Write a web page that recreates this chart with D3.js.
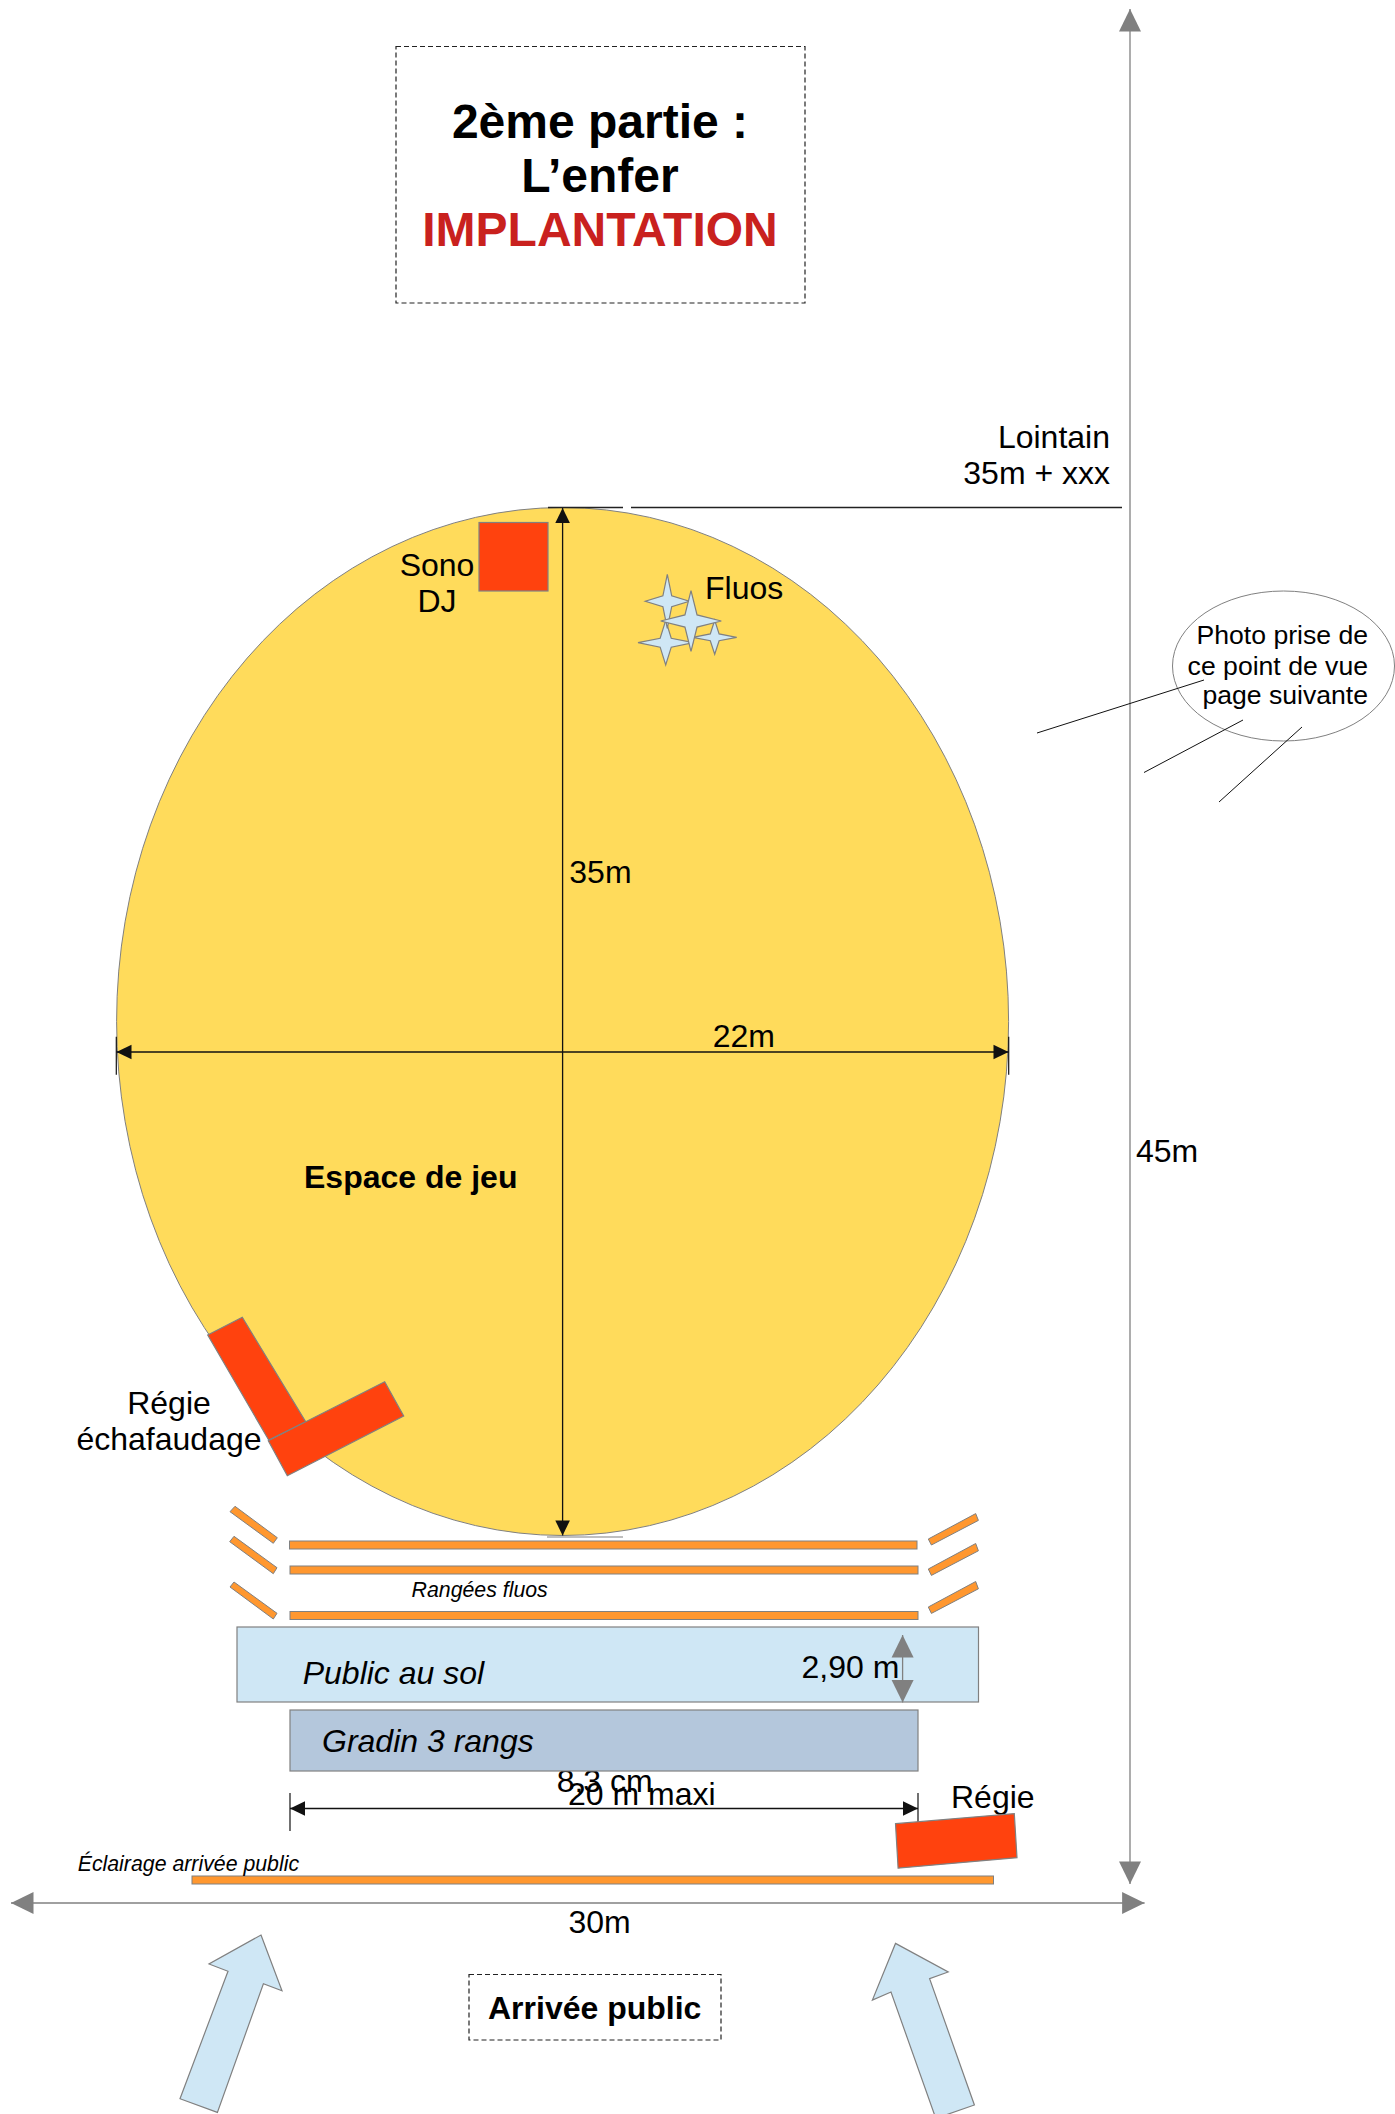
<!DOCTYPE html>
<html>
<head>
<meta charset="utf-8">
<script src="https://cdnjs.cloudflare.com/ajax/libs/d3/7.8.5/d3.min.js"></script>
<style>
  html, body { margin: 0; padding: 0; background: #fff; }
  svg { display: block; }
  text { font-family: "Liberation Sans", Arial, sans-serif; fill: #000; }
</style>
</head>
<body>
<div id="plan"></div>
<script>
// Plan, in plan units (x to the right, y downwards)

// text
const titleLines = ["2ème partie :", "L’enfer", "IMPLANTATION"]
const lointainLines = ["Lointain", "35m + xxx"]
const sonoLines = ["Sono", "DJ"]
const regieLines = ["Régie", "échafaudage"]
const photoLines = ["Photo prise de", "ce point de vue", "page suivante"]

// zones [x0, y0, x1, y1]
const titleBox = [396, 46.5, 805, 303]
const arrivalBox = [469, 1974.5, 721, 2040]
const sonoBox = [479, 522.5, 548, 591]
const publicZone = [237, 1627, 978.5, 1702]
const gradinZone = [290, 1710, 918, 1771]

// ellipses [cx, cy, rx, ry]
const playArea = [562.6, 1021.5, 446, 514]
const photoBubble = [1283.5, 666, 111, 75]

// fluo rows [x0, y0, x1, y1]
const fluoRows = [
  [289.5, 1541, 917, 1549],
  [290, 1566, 918, 1574],
  [290, 1611.5, 918, 1619.5],
  [192, 1876, 993.5, 1884],
]

// slanted fluos and other rotated blocks, lists of corners
const slantedFluos = [
  [[230, 1511.7], [235, 1506.3], [277.3, 1537.7], [273.3, 1543.3]],
  [[229.7, 1541.7], [234, 1536.3], [277, 1567.7], [273.3, 1573.7]],
  [[230, 1587], [234, 1582], [277, 1613.3], [273.3, 1619]],
  [[928.3, 1539], [975.7, 1513.6], [978.4, 1520.4], [931.4, 1545]],
  [[928.3, 1569], [975.7, 1543.5], [978.4, 1550.8], [931.4, 1575.4]],
  [[928.3, 1607], [975.7, 1581.5], [978.4, 1588.8], [931.4, 1613.4]],
]
const regieBlocks = [
  [[207.7, 1335], [242.3, 1317.3], [305.7, 1421.7], [268.7, 1440]],
  [[268.3, 1440.7], [384.7, 1381.7], [403.7, 1416], [287.3, 1475.7]],
  [[895.5, 1823.7], [1014.3, 1813.6], [1017, 1857.7], [898.1, 1868.2]],
]
const entryArrows = [
  [[261, 1935], [282, 1990.7], [263.4, 1983.8], [217.4, 2112.4], [180, 2098.7], [228, 1971.3], [209, 1964]],
  [[895.5, 1943.4], [948.2, 1972], [929.6, 1978.6], [974.4, 2105], [935.8, 2118.4], [891, 1992], [872.4, 2000]],
]

// stars [cx, cy, rx, ry]
const fluoStars = [
  [714.7, 637.3, 22, 17],
  [665.7, 642.7, 27.7, 22.3],
  [667.3, 601.3, 22, 27],
  [691, 621, 30.3, 30.3],
]

// plain lines [x0, y0, x1, y1]
const thinLines = [
  [548, 507.5, 623, 507.5],
  [631, 507.5, 1122, 507.5],
  [116.3, 1036.7, 116.3, 1074.7],
  [1008.7, 1036.7, 1008.7, 1074.7],
  [290, 1793, 290, 1831],
  [918, 1793, 918, 1831],
  [1204, 680, 1037, 733],
  [1243, 720, 1144, 772.5],
  [1302, 727, 1219, 802],
]

// dimension arrows [x0, y0, x1, y1]
const blackDims = [
  [562.6, 508, 562.6, 1535.5],
  [116.5, 1052, 1008.5, 1052],
  [290, 1808.5, 918, 1808.5],
]
const greyDims = [
  [1130, 9, 1130, 1884],
  [11, 1903, 1144.6, 1903],
  [902.6, 1635, 902.6, 1702.4],
]

const dimensions = { width: 1395, height: 2114 }

const x = d3.scaleLinear().domain([0, 1395]).range([0, dimensions.width])
const y = d3.scaleLinear().domain([0, 2114]).range([0, dimensions.height])

const outline = d3.line().x(d => x(d[0])).y(d => y(d[1])).curve(d3.curveLinearClosed)

const wrapper = d3.select("#plan")
  .append("svg")
    .attr("width", dimensions.width)
    .attr("height", dimensions.height)

function drawBoxes(data, fill, stroke, strokeWidth, dash) {
  return wrapper.append("g").selectAll("rect")
    .data(data)
    .join("rect")
      .attr("x", d => x(d[0]))
      .attr("y", d => y(d[1]))
      .attr("width", d => x(d[2]) - x(d[0]))
      .attr("height", d => y(d[3]) - y(d[1]))
      .attr("fill", fill)
      .attr("stroke", stroke)
      .attr("stroke-width", strokeWidth)
      .attr("stroke-dasharray", dash || null)
}

function drawShapes(data, fill, stroke, strokeWidth) {
  return wrapper.append("g").selectAll("path")
    .data(data)
    .join("path")
      .attr("d", outline)
      .attr("fill", fill)
      .attr("stroke", stroke)
      .attr("stroke-width", strokeWidth)
      .attr("stroke-linejoin", "miter")
}

function drawLines(data, stroke, strokeWidth) {
  return wrapper.append("g").selectAll("line")
    .data(data)
    .join("line")
      .attr("x1", d => x(d[0]))
      .attr("y1", d => y(d[1]))
      .attr("x2", d => x(d[2]))
      .attr("y2", d => y(d[3]))
      .attr("stroke", stroke)
      .attr("stroke-width", strokeWidth)
}

function drawEllipse(d, fill, stroke) {
  return wrapper.append("ellipse")
    .attr("cx", x(d[0]))
    .attr("cy", y(d[1]))
    .attr("rx", x(d[2]))
    .attr("ry", y(d[3]))
    .attr("fill", fill)
    .attr("stroke", stroke)
    .attr("stroke-width", 1)
}

// Arrow head at both ends of a dimension line
function drawDim(data, color, strokeWidth, headLength, headHalf) {
  drawLines(data, color, strokeWidth)
  data.forEach(d => {
    const len = Math.hypot(d[2] - d[0], d[3] - d[1])
    const ux = (d[2] - d[0]) / len
    const uy = (d[3] - d[1]) / len
    const head = (px, py, sx, sy) => [
      [px, py],
      [px + sx * headLength - sy * headHalf, py + sy * headLength + sx * headHalf],
      [px + sx * headLength + sy * headHalf, py + sy * headLength - sx * headHalf],
    ]
    drawShapes([head(d[0], d[1], ux, uy), head(d[2], d[3], -ux, -uy)], color, "none", 0)
  })
}

function starPoints(d) {
  const pinch = 0.2
  const [cx, cy, rx, ry] = d
  return [
    [cx, cy - ry], [cx + rx * pinch, cy - ry * pinch],
    [cx + rx, cy], [cx + rx * pinch, cy + ry * pinch],
    [cx, cy + ry], [cx - rx * pinch, cy + ry * pinch],
    [cx - rx, cy], [cx - rx * pinch, cy - ry * pinch],
  ]
}

function drawText(content, px, py, size, opts = {}) {
  return wrapper.append("text")
    .text(content)
    .attr("x", x(px))
    .attr("y", y(py))
    .attr("font-size", size)
    .attr("text-anchor", opts.anchor || "start")
    .attr("font-weight", opts.bold ? "bold" : null)
    .attr("font-style", opts.italic ? "italic" : null)
    .style("fill", opts.fill || null)
}

const grey = "#808080"
const red = "#ff420e"
const orange = "#ff972f"
const paleBlue = "#cfe7f5"

// Title block
drawBoxes([titleBox], "#fff", "#222", 1.2, "5,3")
titleLines.forEach((t, i) =>
  drawText(t, 600, [137.5, 191.5, 245.5][i], 48, { anchor: "middle", bold: true, fill: i == 2 ? "#c9211e" : null }))

// Playing area
drawEllipse(playArea, "#ffdb5b", grey)
drawLines(thinLines.slice(0, 2), "#222", 1.3)
drawBoxes([sonoBox], red, grey, 1.2)
drawShapes(fluoStars.map(starPoints), paleBlue, grey, 1.2)
drawDim(blackDims.slice(0, 2), "#111", 1.3, 15, 7.3)
drawLines(thinLines.slice(2, 4), "#111", 1.2)
drawLines([[547, 1537, 623, 1537]], grey, 1.2)

drawText("Fluos", 705, 599, 32)
sonoLines.forEach((t, i) => drawText(t, 437, [576, 612][i], 32, { anchor: "middle" }))
drawText("35m", 569.3, 882.7, 32)
drawText("22m", 712.7, 1046.7, 32)
drawText("Espace de jeu", 304, 1188, 32, { bold: true })

// Far side
lointainLines.forEach((t, i) => drawText(t, 1110, [448, 484][i], 32, { anchor: "end" }))

// Control scaffold
drawShapes(regieBlocks.slice(0, 2), red, grey, 1.2)
regieLines.forEach((t, i) => drawText(t, 169, [1414, 1450][i], 32, { anchor: "middle" }))

// Fluo rows and audience
drawBoxes(fluoRows, orange, grey, 1)
drawShapes(slantedFluos, orange, grey, 1)
drawText("Rangées fluos", 411.6, 1596.5, 21.3, { italic: true })
drawBoxes([publicZone], paleBlue, grey, 1.2)
drawText("Public au sol", 302.7, 1684, 32, { italic: true })
drawText("2,90 m", 801.5, 1678, 32)
drawText("8,3 cm", 604.7, 1792, 32, { anchor: "middle" })
drawBoxes([gradinZone], "#b4c7dc", grey, 1.2)
drawText("Gradin 3 rangs", 322, 1752, 32, { italic: true })

// 20 m maxi
drawDim(blackDims.slice(2), "#111", 1.3, 15, 7.3)
drawLines(thinLines.slice(4, 6), "#111", 1.2)
drawText("20 m maxi", 568, 1805, 32)
drawText("Régie", 951, 1807.5, 32)
drawShapes(regieBlocks.slice(2), red, grey, 1.2)
drawText("Éclairage arrivée public", 77.7, 1871, 21.3, { italic: true })

// Grey overall dimensions
drawDim(greyDims.slice(0, 2), grey, 1.3, 22.5, 11)
drawDim(greyDims.slice(2), grey, 1.3, 22.5, 11)
drawText("45m", 1136, 1161.5, 32)
drawText("30m", 599.5, 1933, 32, { anchor: "middle" })

// Arrival
drawShapes(entryArrows, paleBlue, grey, 1.2)
drawBoxes([arrivalBox], "#fff", "#222", 1.2, "5,3")
drawText("Arrivée public", 488, 2018.6, 32, { bold: true })

// Photo bubble
drawEllipse(photoBubble, "none", grey)
drawLines(thinLines.slice(6), "#111", 1)
photoLines.forEach((t, i) => drawText(t, 1368, [644, 674.5, 704][i], 26.6, { anchor: "end" }))
</script>
</body>
</html>
